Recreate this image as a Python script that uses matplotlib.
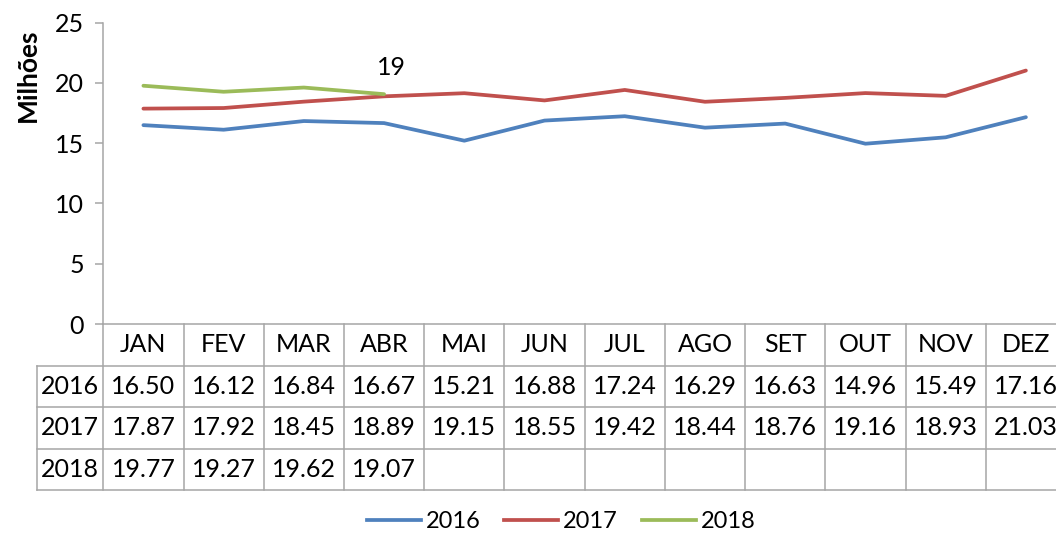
import matplotlib.pyplot as plt
from matplotlib.lines import Line2D

plt.rcParams['font.family'] = ['Lato', 'DejaVu Sans']

# dados
meses = ['JAN', 'FEV', 'MAR', 'ABR', 'MAI', 'JUN', 'JUL', 'AGO', 'SET', 'OUT', 'NOV', 'DEZ']
anos = ['2016', '2017', '2018']
v2016 = [16.50, 16.12, 16.84, 16.67, 15.21, 16.88, 17.24, 16.29, 16.63, 14.96, 15.49, 17.16]
v2017 = [17.87, 17.92, 18.45, 18.89, 19.15, 18.55, 19.42, 18.44, 18.76, 19.16, 18.93, 21.03]
v2018 = [19.77, 19.27, 19.62, 19.07]
cores = ['#4F81BD', '#C0504D', '#9BBB59']
y_ticks = [0, 5, 10, 15, 20, 25]

W, H = 1056, 535
fs = 18
cinza = '#A6A6A6'

fig = plt.figure(figsize=(W / 100, H / 100), dpi=100)

# area do grafico (vai um pouco alem da borda direita, como no original)
x0, x1 = 103.3, 1066
y_top, y_zero = 22.7, 324
ax = fig.add_axes([x0 / W, 1 - y_zero / H, (x1 - x0) / W, (y_zero - y_top) / H])

series = [v2016, v2017, v2018]
for serie, cor, ano in zip(series, cores, anos):
    xs = [i + 0.5 for i in range(len(serie))]
    ax.plot(xs, serie, color=cor, lw=2.7, label=ano, solid_capstyle='round')

# rotulo do ultimo ponto de 2018
ax.annotate('%d' % round(v2018[-1]), (len(v2018) - 0.5, v2018[-1]),
            xytext=(5, 19), textcoords='offset points',
            ha='center', va='center', fontsize=fs)

ax.set_xlim(0, 12)
ax.set_ylim(0, 25)
ax.set_yticks(y_ticks)
ax.set_xticks([])
for s in ['top', 'right', 'bottom']:
    ax.spines[s].set_visible(False)
ax.spines['left'].set_color(cinza)
ax.spines['left'].set_linewidth(1.1)
ax.tick_params(axis='y', direction='out', length=6, width=1.1, color=cinza,
               labelsize=fs, pad=8)

fig.text(28 / W, 1 - 75 / H, 'Milhões', rotation=90, ha='center', va='center',
         fontsize=19, fontweight='bold')

# tabela de dados
col_w = (x1 - x0) / 12
t_left = 37
t_bottom = 490
tax = fig.add_axes([t_left / W, 1 - t_bottom / H, (x1 - t_left) / W, (t_bottom - y_zero) / H])
tax.set_xlim(-(x0 - t_left) / col_w, 12)
tax.set_ylim(4, 0)
tax.axis('off')
xl = -(x0 - t_left) / col_w
lw = 1.1
tax.plot([0, 12], [0, 0], color=cinza, lw=lw, clip_on=False)
for r in range(1, 5):
    tax.plot([xl, 12], [r, r], color=cinza, lw=lw, clip_on=False)
tax.plot([xl, xl], [1, 4], color=cinza, lw=lw, clip_on=False)
for c in range(13):
    tax.plot([c, c], [0, 4], color=cinza, lw=lw, clip_on=False)

for i, m in enumerate(meses):
    tax.text(i + 0.5, 0.5, m, ha='center', va='center', fontsize=fs, clip_on=False)
for r, (ano, serie) in enumerate(zip(anos, series)):
    tax.text(xl / 2, r + 1.5, ano, ha='center', va='center', fontsize=fs)
    for i, v in enumerate(serie):
        tax.text(i + 0.5, r + 1.5, '%.2f' % v, ha='center', va='center', fontsize=fs)

handles = [Line2D([], [], color=c, lw=2.7) for c in cores]
fig.legend(handles, anos, loc='center', bbox_to_anchor=(561 / W, 1 - 522 / H),
           ncol=3, frameon=False, fontsize=17, handlelength=2.3,
           handletextpad=0.2, columnspacing=1.0, borderpad=0.1)

fig.savefig('out.png', dpi=100)
